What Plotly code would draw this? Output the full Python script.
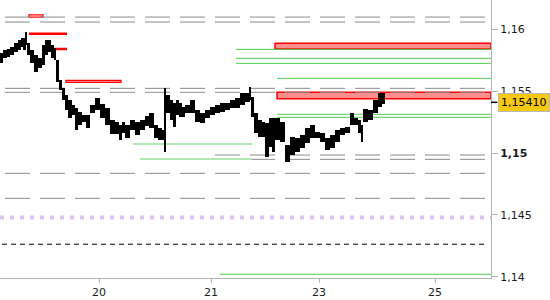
import plotly.graph_objects as go

# ---- price bars (left edge position on bar axis, high, low) ----
bar_x = [0, 3, 6.5, 10, 14, 17.5, 20.5, 23, 25.5, 27, 30, 34, 38, 41.5, 44.5, 47.5, 50.5, 53.5,
         56, 58.5, 61.5, 64.5, 68, 71.5, 74.5, 78, 82, 86, 90, 94.5, 99.5, 104.5, 109.5, 114.5,
         118.5, 121.5, 125, 129.5, 134.5, 139.5, 144.5, 149, 153.5, 158, 161.5, 164.5, 166,
         169.5, 172.5, 175.5, 178.5, 181.5, 185, 189.5, 194.5, 199.5, 204.5, 209.5, 214.5,
         219.5, 224.5, 229.5, 234.5, 239.5, 244.5, 249.5, 251, 254, 257.5, 261.5, 265, 268.5,
         271.5, 275, 279.5, 284.5, 289.5, 294.5, 299.5, 304.5, 309.5, 314.5, 319.5, 324.5,
         329.5, 334.5, 339.5, 344.5, 349.5, 353.5, 357.5, 361, 362.5, 367.5, 372.5, 377.5, 381.5]
bar_high = [1.15808, 1.15833, 1.15841, 1.15857, 1.15889, 1.15914, 1.15930, 1.15930, 1.15978,
            1.15889, 1.15833, 1.15792, 1.15768, 1.15873, 1.15914, 1.15914, 1.15873, 1.15849,
            1.15752, 1.15590, 1.15526, 1.15469, 1.15429, 1.15388, 1.15364, 1.15332, 1.15308,
            1.15308, 1.15388, 1.15445, 1.15396, 1.15364, 1.15267, 1.15251, 1.15227, 1.15251,
            1.15227, 1.15267, 1.15251, 1.15267, 1.15299, 1.15324, 1.15227, 1.15202, 1.15186,
            1.15526, 1.15469, 1.15429, 1.15404, 1.15429, 1.15404, 1.15372, 1.15388, 1.15429,
            1.15348, 1.15324, 1.15348, 1.15372, 1.15388, 1.15404, 1.15404, 1.15429, 1.15445,
            1.15485, 1.15485, 1.15534, 1.15453, 1.15324, 1.15267, 1.15251, 1.15243, 1.15283,
            1.15283, 1.15283, 1.15251, 1.15065, 1.15130, 1.15122, 1.15146, 1.15202, 1.15227,
            1.15170, 1.15162, 1.15122, 1.15146, 1.15186, 1.15202, 1.15211, 1.15324, 1.15283,
            1.15267, 1.15227, 1.15356, 1.15348, 1.15429, 1.15485, 1.15485]
bar_low = [1.15728, 1.15768, 1.15776, 1.15792, 1.15817, 1.15833, 1.15857, 1.15833, 1.15873,
           1.15792, 1.15728, 1.15655, 1.15687, 1.15712, 1.15792, 1.15817, 1.15768, 1.15752,
           1.15574, 1.15510, 1.15429, 1.15348, 1.15283, 1.15308, 1.15186, 1.15227, 1.15251,
           1.15202, 1.15324, 1.15348, 1.15283, 1.15227, 1.15154, 1.15154, 1.15105, 1.15162,
           1.15122, 1.15186, 1.15146, 1.15186, 1.15219, 1.15202, 1.15122, 1.15105, 1.15105,
           1.15009, 1.15324, 1.15267, 1.15211, 1.15308, 1.15291, 1.15291, 1.15324, 1.15324,
           1.15251, 1.15243, 1.15283, 1.15308, 1.15324, 1.15332, 1.15348, 1.15364, 1.15364,
           1.15388, 1.15413, 1.15429, 1.15291, 1.15162, 1.15130, 1.15130, 1.14968, 1.15049,
           1.15009, 1.15105, 1.15089, 1.14928, 1.14984, 1.15009, 1.15041, 1.15081, 1.15122,
           1.15122, 1.15089, 1.15025, 1.15041, 1.15089, 1.15146, 1.15162, 1.15227, 1.15227,
           1.15162, 1.15089, 1.15251, 1.15267, 1.15324, 1.15372, 1.15396]
last_price = 1.15410

# ---- axis ticks ----
x_tick_pos = [99, 211, 319, 435]
x_tick_text = ["20", "21", "23", "25"]
y_tick_vals = [1.14, 1.145, 1.15, 1.155, 1.16]
y_tick_text = ["1,14", "1,145", "<b>1,15</b>", "1,155", "1,16"]
x_end = 491
y_range = [1.13990, 1.16237]

# ---- horizontal levels ----
gray_levels = [1.16099, 1.16059, 1.15523, 1.15491, 1.14984, 1.14949, 1.14836, 1.14634]
gray_start = [5, 5, 5, 5, 215, 215, 5, 5]
gray_stop = 485
purple_level = 1.14478
black_dash_level = 1.14263
green_levels = [1.15838, 1.15766, 1.15725, 1.15604, 1.15313, 1.15289, 1.14020]
green_start = [236, 236, 236, 277, 277, 277, 220]
light_green_levels = [1.15073, 1.14952]
light_green_start = [133, 140]
light_green_stop = 252
red_line_levels = [1.15964, 1.15841]
red_line_start = [29, 42]
red_line_stop = 67
red_zones = [(275, 1.15841, 1.15887), (277, 1.15439, 1.15491)]
red_boxes = [(66, 121, 1.15572, 1.15588), (29, 43, 1.16099, 1.16116)]

widths = [bar_x[i + 1] - bar_x[i] for i in range(len(bar_x) - 1)] + [3]

fig = go.Figure()
fig.add_trace(go.Bar(
    x=bar_x, y=[h - l for h, l in zip(bar_high, bar_low)], base=bar_low,
    width=widths, offset=0, marker=dict(color="black", line=dict(width=0)),
    hoverinfo="skip", showlegend=False))

shapes = []
for lv0, ys0, ys1 in red_zones:
    shapes.append(dict(type="rect", xref="x", yref="y", x0=lv0, x1=x_end, y0=ys0, y1=ys1,
                       fillcolor="#ff8e8e", line=dict(color="#ff0000", width=1.5), layer="below"))
for x0, x1, y0, y1 in red_boxes:
    shapes.append(dict(type="rect", xref="x", yref="y", x0=x0, x1=x1, y0=y0, y1=y1,
                       fillcolor="white", line=dict(color="#ff0000", width=1.3), layer="below"))
for lv, xs in zip(gray_levels, gray_start):
    shapes.append(dict(type="line", xref="x", yref="y", x0=xs, x1=gray_stop, y0=lv, y1=lv,
                       line=dict(color="#8a8a8a", width=1, dash="25px,10px"), layer="below"))
shapes.append(dict(type="line", xref="x", yref="y", x0=0, x1=x_end, y0=purple_level, y1=purple_level,
                   line=dict(color="#dcc2f0", width=4, dash="4px,6px"), layer="below"))
shapes.append(dict(type="line", xref="x", yref="y", x0=2, x1=487, y0=black_dash_level, y1=black_dash_level,
                   line=dict(color="black", width=1, dash="5px,4px"), layer="below"))
for lv, xs in zip(green_levels, green_start):
    shapes.append(dict(type="line", xref="x", yref="y", x0=xs, x1=x_end, y0=lv, y1=lv,
                       line=dict(color="#4ccc4c", width=1), layer="below"))
for lv, xs in zip(light_green_levels, light_green_start):
    shapes.append(dict(type="line", xref="x", yref="y", x0=xs, x1=light_green_stop, y0=lv, y1=lv,
                       line=dict(color="#b2e8b2", width=2), layer="below"))
for lv, xs in zip(red_line_levels, red_line_start):
    shapes.append(dict(type="line", xref="x", yref="y", x0=xs, x1=red_line_stop, y0=lv, y1=lv,
                       line=dict(color="#ff0000", width=2.5), layer="below"))
# marker tick for current price on the axis
shapes.append(dict(type="line", xref="paper", yref="y", x0=1, x1=1.013, y0=last_price, y1=last_price,
                   line=dict(color="black", width=1.5), layer="above"))

fig.update_layout(
    width=550, height=300,
    margin=dict(l=0, r=59, t=0, b=22),
    paper_bgcolor="white", plot_bgcolor="white",
    showlegend=False, bargap=0,
    shapes=shapes,
    font=dict(family="DejaVu Sans", size=11, color="#1a1a1a"),
    xaxis=dict(range=[0, x_end], showgrid=False, zeroline=False, showline=True,
               linecolor="#b4b4b4", linewidth=1, ticks="outside", ticklen=4, tickcolor="#b4b4b4",
               tickvals=x_tick_pos, ticktext=x_tick_text, tickfont=dict(size=11, color="#1a1a1a")),
    yaxis=dict(range=y_range, side="right", showgrid=False, zeroline=False, showline=True,
               linecolor="#b4b4b4", linewidth=1, ticks="outside", ticklen=6, tickcolor="#b4b4b4",
               tickvals=y_tick_vals, ticktext=y_tick_text, tickfont=dict(size=11, color="#1a1a1a")),
    annotations=[dict(xref="paper", yref="y", x=1, y=last_price, xanchor="left", yanchor="middle",
                      xshift=7, showarrow=False, text=f"{last_price:.5f}".replace(".", ","),
                      font=dict(family="DejaVu Sans", size=11, color="black"),
                      bgcolor="#f7c913", bordercolor="#b8b8b8", borderwidth=1, borderpad=2)],
)

fig.write_html("out.html")
